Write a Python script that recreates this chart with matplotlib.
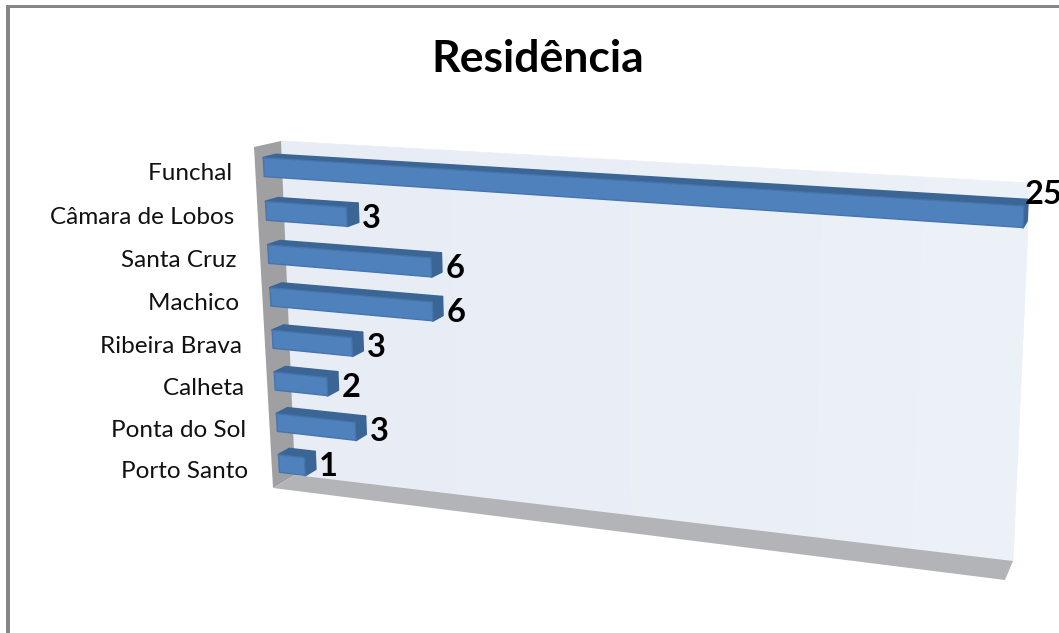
import matplotlib
matplotlib.use('Agg')
import matplotlib.pyplot as plt
from matplotlib.patches import Polygon, Rectangle
import numpy as np

plt.rcParams['font.family'] = ['Lato', 'DejaVu Sans']

categories = ['Funchal ', 'Câmara de Lobos ', 'Santa Cruz ', 'Machico ',
              'Ribeira Brava ', 'Calheta ', 'Ponta do Sol ', 'Porto Santo ']
values = [25, 3, 6, 6, 3, 2, 3, 1]
title = 'Residência'

axis_max = 25
ncat = len(categories)


def homography(quad):
    # unit square -> quad (tl, tr, br, bl)
    src = [(0, 0), (1, 0), (1, 1), (0, 1)]
    A = []
    b = []
    for (u, v), (x, y) in zip(src, quad):
        A.append([u, v, 1, 0, 0, 0, -u * x, -v * x])
        A.append([0, 0, 0, u, v, 1, -u * y, -v * y])
        b += [x, y]
    h = np.linalg.solve(np.array(A, float), np.array(b, float))
    return np.append(h, 1).reshape(3, 3)


# the box: back wall and the plane in front of it, in pixels
wall = [(281, 141), (1030, 183), (1013, 561), (295, 475)]
front = [(254, 147), (1022, 196), (1005, 580), (273, 488)]
H_wall = homography(wall)
H_front = homography(front)


def project(val, cat, z):
    p = np.array([val / axis_max, cat / ncat, 1.0])
    a = H_wall @ p
    b = H_front @ p
    a = a[:2] / a[2]
    b = b[:2] / b[2]
    return tuple(a + (b - a) * z)


fig = plt.figure(figsize=(10.59, 6.33), dpi=100)
ax = fig.add_axes([0, 0, 1, 1])
ax.set_xlim(0, 1059)
ax.set_ylim(633, 0)
ax.axis('off')

# outer border, only left and top show
ax.add_patch(Rectangle((6, 5), 1053, 2.5, color='#868686', lw=0))
ax.add_patch(Rectangle((6, 5), 4, 628, color='#868686', lw=0))

# walls
strips = np.linspace(0, axis_max, 9)
shades = ['#e8edf5', '#e8edf5', '#e9eef6', '#e9eef6', '#eaeff6', '#eaeff6', '#ebf0f7', '#ecf1f7']
for i in range(8):
    ax.add_patch(Polygon([project(strips[i], 0, 0), project(strips[i + 1], 0, 0),
                          project(strips[i + 1], ncat, 0), project(strips[i], ncat, 0)],
                         fc=shades[i], ec=shades[i], lw=0.5))
ax.add_patch(Polygon([project(0, 0, 1), project(0, 0, 0), project(0, ncat, 0), project(0, ncat, 1)],
                     fc='#a0a0a3', ec='none'))
ax.add_patch(Polygon([project(0, ncat, 1), project(0, ncat, 0),
                      project(axis_max, ncat, 0), project(axis_max, ncat, 1)],
                     fc='#b2b4b8', ec='none'))

# bars
half = 0.215
z0, z1 = 0.2, 0.68
dark = '#3a6595'
blue = '#4f81bd'
for i, val in enumerate(values):
    c = i + 0.5
    t, b = c - half, c + half
    ax.add_patch(Polygon([project(0, t, z0), project(val, t, z0), project(val, t, z1), project(0, t, z1)],
                         fc=dark, ec=dark, lw=1.5, joinstyle='round'))
    ax.add_patch(Polygon([project(val, t, z0), project(val, b, z0), project(val, b, z1), project(val, t, z1)],
                         fc=dark, ec=dark, lw=1.5, joinstyle='round'))
    ax.add_patch(Polygon([project(0, t, z1), project(val, t, z1), project(val, b, z1), project(0, b, z1)],
                         fc=blue, ec='#4675ac', lw=1, joinstyle='round'))

    # value labels
    x, y = project(val, c, 0.3)
    if val == max(values):
        ax.text(x - 2, y - 17, str(val), fontsize=23.5, fontweight='bold', color='black',
                ha='left', va='center', clip_on=True)
    else:
        ax.text(x + 6, y + 5, str(val), fontsize=23.5, fontweight='bold', color='black',
                ha='left', va='center')

    # category labels follow the left wall
    lx, ly = project(0, c, 1)
    ax.text(lx - 17, ly + 4, categories[i], fontsize=17.5, color='#111111', ha='right', va='center')

ax.text(538, 59, title, fontsize=32, fontweight='bold', color='black', ha='center', va='center')

fig.savefig('out.png', dpi=100)
